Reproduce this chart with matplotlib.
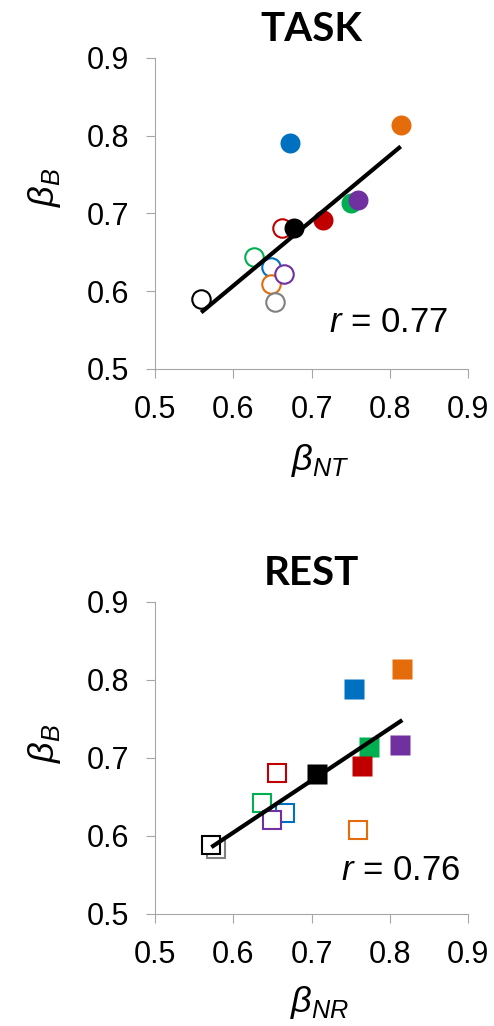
import numpy as np
import matplotlib.pyplot as plt

plt.rcParams['font.family'] = ['Liberation Sans', 'DejaVu Sans']
plt.rcParams['mathtext.fontset'] = 'custom'
plt.rcParams['mathtext.it'] = 'Liberation Sans:italic'
plt.rcParams['mathtext.rm'] = 'Liberation Sans'

# filled markers: blue, orange, green, purple, red, black
colors_filled = ['#0070C0', '#E46C0A', '#00B050', '#7030A0', '#C00000', '#000000']
# open markers: blue, orange, green, purple, red, gray, black
colors_open = ['#0070C0', '#E46C0A', '#00B050', '#7030A0', '#C00000', '#808080', '#000000']

task_filled_x = [0.672, 0.814, 0.750, 0.759, 0.715, 0.678]
task_filled_y = [0.790, 0.814, 0.714, 0.717, 0.691, 0.681]
task_open_x = [0.648, 0.648, 0.627, 0.665, 0.662, 0.653, 0.559]
task_open_y = [0.631, 0.609, 0.644, 0.622, 0.681, 0.586, 0.590]

rest_filled_x = [0.754, 0.816, 0.773, 0.813, 0.765, 0.707]
rest_filled_y = [0.789, 0.814, 0.714, 0.716, 0.690, 0.680]
rest_open_x = [0.666, 0.759, 0.637, 0.650, 0.656, 0.578, 0.572]
rest_open_y = [0.630, 0.608, 0.642, 0.620, 0.681, 0.583, 0.588]

ticks = [0.5, 0.6, 0.7, 0.8, 0.9]
tick_labels = ['0.5', '0.6', '0.7', '0.8', '0.9']

fig = plt.figure(figsize=(4.94, 10.26), dpi=100)
ax1 = fig.add_axes([0.3138, 0.6404, 0.6336, 0.3031])
ax2 = fig.add_axes([0.3138, 0.1092, 0.6336, 0.3041])


def panel(ax, fx, fy, ox, oy, marker, title, xlab, rtext, rpos, xlab_y, ylab_y):
    for x, y, c in zip(ox, oy, colors_open):
        ax.plot(x, y, marker=marker, ms=13.3, mfc='white', mec=c, mew=1.5,
                linestyle='none', zorder=2)
    for x, y, c in zip(fx, fy, colors_filled):
        ax.plot(x, y, marker=marker, ms=14.4, mfc=c, mec='none',
                linestyle='none', zorder=3)
    allx = np.array(fx + ox)
    ally = np.array(fy + oy)
    k, b = np.polyfit(allx, ally, 1)
    xs = np.array([allx.min(), allx.max()])
    ax.plot(xs, k * xs + b, color='black', lw=3, zorder=4,
            solid_capstyle='butt')

    ax.set_xlim(0.5, 0.9)
    ax.set_ylim(0.5, 0.9)
    ax.set_xticks(ticks)
    ax.set_xticklabels(tick_labels)
    ax.set_yticks(ticks)
    ax.set_yticklabels(tick_labels)
    for s in ['top', 'right']:
        ax.spines[s].set_visible(False)
    for s in ['left', 'bottom']:
        ax.spines[s].set_color('#A6A6A6')
        ax.spines[s].set_linewidth(0.8)
    ax.tick_params(direction='out', length=6.5, width=0.8, color='#A6A6A6',
                   labelsize=22, pad=12)
    ax.set_title(title, fontsize=29, fontweight='bold', family='Lato', pad=12)
    ax.set_xlabel(xlab, fontsize=26)
    ax.set_ylabel(r'$\beta_{B}$', fontsize=26)
    ax.xaxis.set_label_coords(0.527, xlab_y)
    ax.yaxis.set_label_coords(-0.294, ylab_y)
    ax.text(rpos[0], rpos[1], rtext, fontsize=25, ha='right', va='baseline')


panel(ax1, task_filled_x, task_filled_y, task_open_x, task_open_y, 'o',
      'TASK', r'$\beta_{NT}$', r'$r$ = 0.77', (0.874, 0.548), -0.235, 0.585)
panel(ax2, rest_filled_x, rest_filled_y, rest_open_x, rest_open_y, 's',
      'REST', r'$\beta_{NR}$', r'$r$ = 0.76', (0.890, 0.544), -0.225, 0.548)

fig.savefig('out.png', dpi=100)
